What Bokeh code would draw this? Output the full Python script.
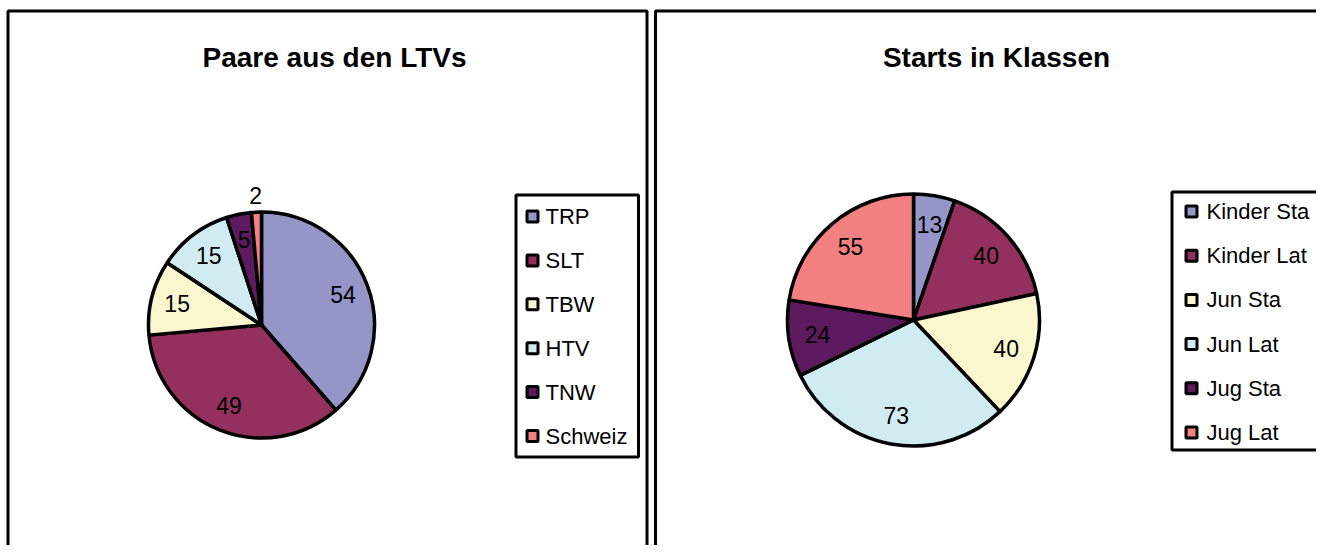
import math
from bokeh.plotting import figure
from bokeh.models import Range1d
from bokeh.core.properties import value
from bokeh.embed import file_html
from bokeh.resources import INLINE

# ---------------- data ----------------
left_title = "Paare aus den LTVs"
left_labels = ["TRP", "SLT", "TBW", "HTV", "TNW", "Schweiz"]
left_values = [54, 49, 15, 15, 5, 2]

right_title = "Starts in Klassen"
right_labels = ["Kinder Sta", "Kinder Lat", "Jun Sta", "Jun Lat", "Jug Sta", "Jug Lat"]
right_values = [13, 40, 40, 73, 24, 55]

colors = ["#9595C8", "#93305E", "#FAF7CF", "#D0ECF2", "#5E1A5E", "#F28080"]

# ---------------- layout ----------------
W, H = 1316, 545
FONT = "Liberation Sans"

def Y(img_y):
    # convert page pixel row to data y
    return 546 - img_y

p = figure(width=W, height=H, x_range=Range1d(1, 1 + W), y_range=Range1d(0, H),
           output_backend="svg", toolbar_location=None, min_border=0)
p.axis.visible = False
p.grid.visible = False
p.outline_line_color = None
p.background_fill_color = "white"
p.border_fill_color = "white"

# chart frames (extend past bottom / right edge)
p.quad(left=[8.5], right=[647.5], top=[Y(11.5)], bottom=[Y(600)],
       fill_color=None, line_color="black", line_width=3)
p.quad(left=[656], right=[1400], top=[Y(11.5)], bottom=[Y(600)],
       fill_color=None, line_color="black", line_width=3)


def draw_pie(cx, cy, r, vals, title, tx, labels, leg_box, leg_marker_x, leg_text_x,
             leg_top, leg_step):
    total = float(sum(vals))
    k = 2 * math.pi / total
    cum = 0.0
    starts, ends, lx, ly, ltxt = [], [], [], [], []
    for v in vals:
        a0 = math.pi / 2 - cum * k
        a1 = math.pi / 2 - (cum + v) * k
        starts.append(a1)
        ends.append(a0)
        mid = (a0 + a1) / 2
        frac = v / total
        rr = r * (1.15 if frac < 0.03 else 0.77)
        lx.append(cx + rr * math.cos(mid))
        ly.append(Y(cy) + rr * math.sin(mid))
        ltxt.append(str(v))
        cum += v
    p.wedge(x=[cx] * len(vals), y=[Y(cy)] * len(vals), radius=r,
            start_angle=starts, end_angle=ends, fill_color=colors[:len(vals)],
            line_color="black", line_width=3.5)
    p.text(x=lx, y=ly, text=ltxt, text_align="center", text_baseline="middle",
           text_font=value(FONT), text_font_size="23px", text_color="black")
    # title
    p.text(x=[tx], y=[Y(58)], text=[title], text_align="center",
           text_baseline="alphabetic", text_font=value(FONT),
           text_font_size="28px", text_font_style="bold", text_color="black")
    # legend
    l, rgt, t, b = leg_box
    p.quad(left=[l], right=[rgt], top=[Y(t)], bottom=[Y(b)], fill_color="white",
           line_color="black", line_width=3)
    ys = [Y(leg_top + i * leg_step) for i in range(len(labels))]
    p.scatter(x=[leg_marker_x] * len(labels), y=ys, marker="square", size=11,
              fill_color=colors[:len(labels)], line_color="black", line_width=3)
    p.text(x=[leg_text_x] * len(labels), y=ys, text=labels, text_align="left",
           text_baseline="middle", text_font=value(FONT), text_font_size="22px",
           text_color="black")


draw_pie(262, 325.5, 113, left_values, left_title, 335, left_labels,
         (516.5, 639, 195.5, 457.5), 533, 546, 217, 43.9)
draw_pie(914, 320.5, 126, right_values, right_title, 997, right_labels,
         (1172.5, 1400, 192.5, 450.5), 1192, 1207, 212, 44.2)

open("out.html", "w").write(file_html(p, INLINE))
